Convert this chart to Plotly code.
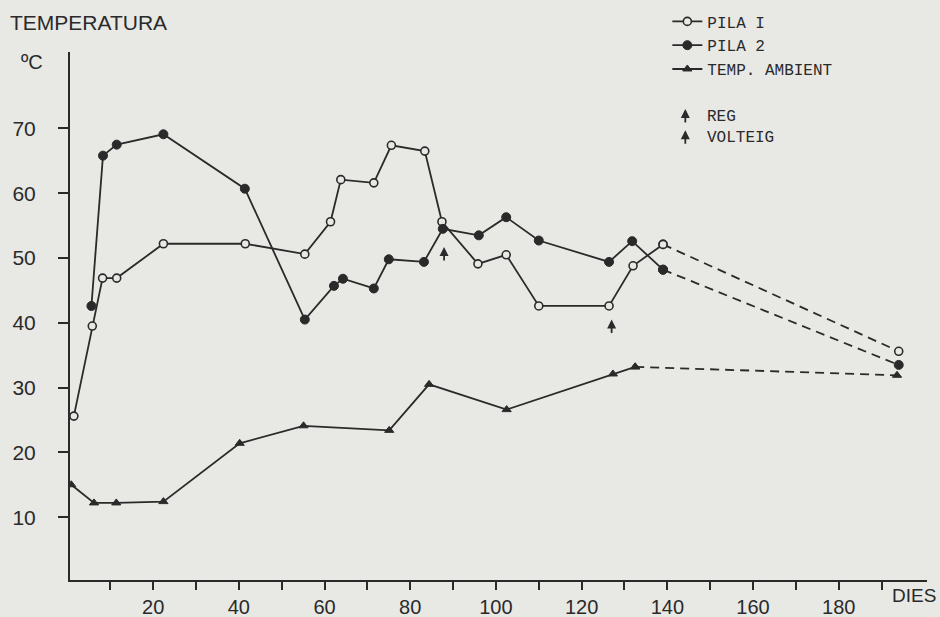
import plotly.graph_objects as go

# ---- data (days, temperature °C) ----
pila1_x = [1.5, 5.8, 8.2, 11.5, 22.4, 41.5, 55.4, 61.4, 63.8, 71.5, 75.6, 83.4, 87.4, 95.8, 102.4, 110.0, 126.4, 132.0, 139.0, 194.0]
pila1_y = [25.6, 39.5, 46.9, 46.9, 52.2, 52.2, 50.6, 55.6, 62.1, 61.6, 67.4, 66.5, 55.6, 49.1, 50.5, 42.6, 42.6, 48.8, 52.1, 35.6]

pila2_x = [5.6, 8.3, 11.5, 22.4, 41.4, 55.4, 62.2, 64.3, 71.5, 75.0, 83.2, 87.6, 96.0, 102.4, 110.0, 126.4, 131.8, 139.0, 194.0]
pila2_y = [42.6, 65.8, 67.5, 69.1, 60.7, 40.5, 45.7, 46.8, 45.3, 49.8, 49.4, 54.5, 53.5, 56.3, 52.7, 49.4, 52.6, 48.2, 33.5]

amb_x = [0.9, 6.2, 11.4, 22.4, 40.2, 55.1, 75.1, 84.4, 102.5, 127.3, 132.5, 193.6]
amb_y = [15.0, 12.2, 12.2, 12.4, 21.4, 24.1, 23.4, 30.5, 26.6, 32.1, 33.2, 31.9]

# number of final points joined by a dashed segment (extrapolated part)
dashed_tail = 2

# event arrows (tip position): REG, VOLTEIG
arrow_x = [87.9, 127.0]
arrow_y = [51.7, 40.5]

x_tickvals = [10, 20, 30, 40, 50, 60, 70, 80, 90, 100, 110, 120, 130, 140, 150, 160, 170, 180, 190]
x_ticktext = ["", "20", "", "40", "", "60", "", "80", "", "100", "", "120", "", "140", "", "160", "", "180", ""]
y_tickvals = [10, 20, 30, 40, 50, 60, 70]

series_names = ["PILA I", "PILA 2", "TEMP. AMBIENT"]
note_labels = ["REG", "VOLTEIG"]

# ---- styles ----
BG = "#e8e8e5"
INK = "#2a2a2a"
SANS = "Liberation Sans, Arial, sans-serif"
MONO = "Liberation Mono, DejaVu Sans Mono, monospace"

fig = go.Figure()

specs = [
    (pila1_x, pila1_y, series_names[0], dict(symbol="circle", size=8, color=BG, line=dict(color=INK, width=1.6))),
    (pila2_x, pila2_y, series_names[1], dict(symbol="circle", size=9, color=INK, line=dict(color=INK, width=1))),
    (amb_x, amb_y, series_names[2], dict(symbol="triangle-up", size=8, color=INK, line=dict(color=INK, width=1))),
]

for xs, ys, name, mk in specs:
    n = len(xs)
    fig.add_trace(go.Scatter(
        x=xs[n - dashed_tail:], y=ys[n - dashed_tail:], mode="lines+markers",
        line=dict(color=INK, width=1.8, dash="9px,6px"), marker=mk,
        showlegend=False, hoverinfo="skip"))
    fig.add_trace(go.Scatter(
        x=xs[:n - dashed_tail + 1], y=ys[:n - dashed_tail + 1], mode="lines+markers",
        line=dict(color=INK, width=1.8), marker=mk, name=name))

annotations = [
    dict(text="TEMPERATURA", xref="paper", yref="paper", x=-0.072, y=1.055,
         xanchor="left", yanchor="middle", showarrow=False,
         font=dict(family=SANS, size=21, color=INK)),
    dict(text="ºC", xref="paper", yref="paper", x=-0.059, y=0.981,
         xanchor="left", yanchor="middle", showarrow=False,
         font=dict(family=SANS, size=20, color=INK)),
    dict(text="DIES", xref="paper", yref="paper", x=1.013, y=-0.030,
         xanchor="right", yanchor="middle", showarrow=False,
         font=dict(family=SANS, size=19, color=INK)),
]

ARROW = dict(text="", showarrow=True, arrowhead=2, arrowsize=1.0, arrowwidth=1.8,
             arrowcolor=INK, ax=0, ay=15, standoff=0, font=dict(size=1))

# arrows on the plot
for ax_, ay_ in zip(arrow_x, arrow_y):
    annotations.append(dict(x=ax_, y=ay_, xref="x", yref="y", **ARROW))

# legend notes for the arrows
for lab, py in zip(note_labels, [0.877, 0.837]):
    annotations.append(dict(x=0.718, y=py + 0.015, xref="paper", yref="paper", **ARROW))
    annotations.append(dict(text=lab, xref="paper", yref="paper", x=0.741, y=py,
                            xanchor="left", yanchor="middle", showarrow=False,
                            font=dict(family=MONO, size=16, color=INK)))

fig.update_layout(
    width=940, height=617,
    margin=dict(l=70, r=13, t=52, b=37, autoexpand=False),
    paper_bgcolor=BG, plot_bgcolor=BG,
    showlegend=True,
    legend=dict(x=0.697, y=1.09, xanchor="left", yanchor="top",
                bgcolor="rgba(0,0,0,0)", font=dict(family=MONO, size=16, color=INK),
                itemwidth=30, tracegroupgap=0),
    xaxis=dict(range=[0.6, 200.6], showgrid=False, zeroline=False, automargin=False,
               showline=True, linecolor=INK, linewidth=2,
               tickmode="array", tickvals=x_tickvals, ticktext=x_ticktext,
               ticks="outside", ticklen=8, tickwidth=2, tickcolor=INK,
               tickfont=dict(family=SANS, size=20, color=INK)),
    yaxis=dict(range=[0.3, 81.8], showgrid=False, zeroline=False, automargin=False,
               showline=True, linecolor=INK, linewidth=2,
               tickmode="array", tickvals=y_tickvals,
               ticks="outside", ticklen=10, tickwidth=2, tickcolor=INK,
               ticklabelstandoff=18,
               tickfont=dict(family=SANS, size=21, color=INK)),
    annotations=annotations,
)

fig.write_html("out.html")
